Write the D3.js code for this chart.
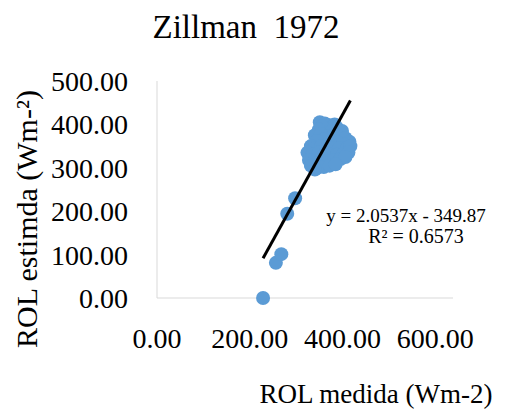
<!DOCTYPE html>
<html>
<head>
<meta charset="utf-8">
<script src="https://cdn.jsdelivr.net/npm/d3@7"></script>
<style>
body { margin: 0; background: #fff; }
text { font-family: "Liberation Serif", "Times New Roman", serif; fill: #000; }
</style>
</head>
<body>
<script>
var medida = [215, 241, 252, 264, 280,
  330, 340, 350, 360, 345, 335, 365, 375, 355, 328,
  320, 332, 345, 358, 370, 382, 390, 378, 365, 350,
  338, 325, 312, 320, 333, 345, 357, 370, 385, 392,
  305, 315, 328, 340, 352, 365, 378, 388,
  308, 320, 332, 345, 358, 372, 382,
  312, 325, 338, 350, 362, 320];
var estimada = [0, 81, 101, 194, 230,
  405, 402, 398, 400, 390, 395, 392, 385, 385, 388,
  375, 378, 372, 376, 370, 368, 360, 355, 360, 362,
  365, 362, 350, 345, 350, 348, 345, 345, 345, 350,
  335, 330, 335, 332, 330, 330, 332, 335,
  318, 315, 318, 315, 318, 320, 325,
  305, 300, 302, 305, 308, 296];
var xTicks = [0, 200, 400, 600];
var yTicks = [0, 100, 200, 300, 400, 500];
var slope = 2.0537, intercept = -349.87;
var eqText = "y = 2.0537x - 349.87";
var r2Text = "R² = 0.6573";

var W = 514, H = 415;
var svg = d3.select("body").append("svg").attr("width", W).attr("height", H);

var x = d3.scaleLinear().domain([0, 600]).range([157, 453]);
var y = d3.scaleLinear().domain([0, 500]).range([298, 81]);
var fmt = d3.format(".2f");

// title
svg.append("text")
  .attr("x", 246).attr("y", 38)
  .attr("text-anchor", "middle")
  .style("font-size", "33px")
  .style("white-space", "pre")
  .text("Zillman  1972");

// axes lines
svg.append("line")
  .attr("x1", x(0)).attr("x2", x(0))
  .attr("y1", y(0)).attr("y2", y(500))
  .attr("stroke", "#d9d9d9").attr("stroke-width", 1);
svg.append("line")
  .attr("x1", x(0)).attr("x2", x(600))
  .attr("y1", y(0)).attr("y2", y(0))
  .attr("stroke", "#d9d9d9").attr("stroke-width", 1);

// y tick labels
svg.selectAll(".ylab").data(yTicks).enter().append("text")
  .attr("class", "ylab")
  .attr("x", 128)
  .attr("y", d => y(d) + 10)
  .attr("text-anchor", "end")
  .style("font-size", "28px")
  .text(d => fmt(d));

// x tick labels (excel squeezes them a bit)
svg.selectAll(".xlab").data(xTicks).enter().append("text")
  .attr("class", "xlab")
  .attr("x", d => x(d) - (x(d) - x(0)) * 0.06)
  .attr("y", 348)
  .attr("text-anchor", "middle")
  .style("font-size", "28px")
  .text(d => fmt(d));

// axis titles
svg.append("text")
  .attr("x", 376).attr("y", 403)
  .attr("text-anchor", "middle")
  .style("font-size", "27px")
  .text("ROL medida (Wm-2)");

svg.append("text")
  .attr("transform", "translate(37,219) rotate(-90)")
  .attr("text-anchor", "middle")
  .style("font-size", "30px")
  .text("ROL estimda (Wm-²)");

// points
svg.selectAll(".pt").data(medida).enter().append("circle")
  .attr("class", "pt")
  .attr("cx", d => x(d))
  .attr("cy", (d, i) => y(estimada[i]))
  .attr("r", 7)
  .attr("fill", "#5b9bd5");

// trendline
var x0 = d3.min(medida), x1 = d3.max(medida);
svg.append("line")
  .attr("x1", x(x0)).attr("y1", y(slope * x0 + intercept))
  .attr("x2", x(x1)).attr("y2", y(slope * x1 + intercept))
  .attr("stroke", "#000").attr("stroke-width", 3);

// equation
svg.append("text")
  .attr("x", 406).attr("y", 222)
  .attr("text-anchor", "middle")
  .style("font-size", "19px")
  .text(eqText);
svg.append("text")
  .attr("x", 416).attr("y", 243)
  .attr("text-anchor", "middle")
  .style("font-size", "20px")
  .text(r2Text);
</script>
</body>
</html>
